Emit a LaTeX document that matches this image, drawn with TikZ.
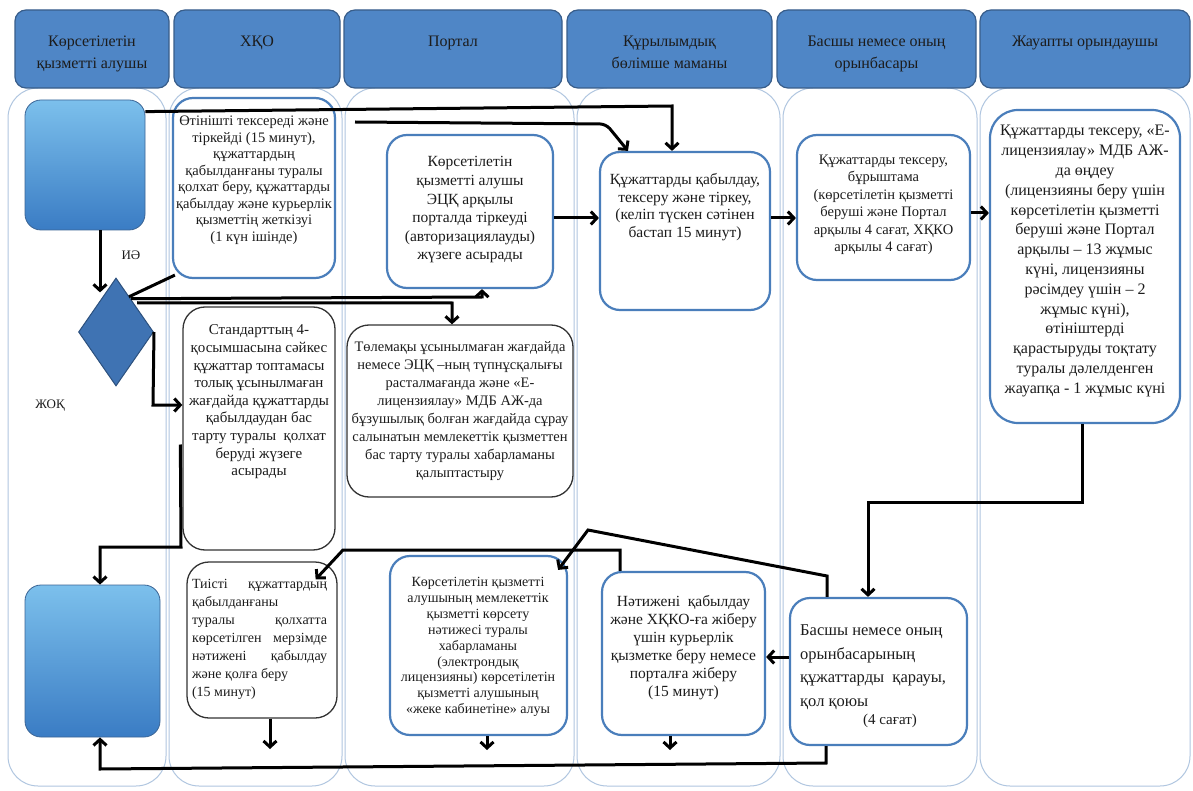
\documentclass[tikz,border=0pt]{standalone}
\usepackage{fontspec}
\setmainfont{Liberation Serif}
\usetikzlibrary{arrows.meta,shapes.geometric,calc}
\definecolor{hdr}{HTML}{4F86C6}
\definecolor{hdrline}{HTML}{385D8A}
\definecolor{bxblue}{HTML}{4A7EBB}
\definecolor{lanec}{HTML}{B0C6E0}
\definecolor{txt}{HTML}{1C1C1C}
\definecolor{gtop}{HTML}{7CC0EC}
\definecolor{gbot}{HTML}{3A7CC4}
\definecolor{dia}{HTML}{3F73B3}
\begin{document}
\begin{tikzpicture}[x=1pt,y=-1pt,
  hdrbox/.style={draw=hdrline, line width=1.2pt, fill=hdr, rounded corners=11pt, inner sep=0},
  hdrtxt/.style={text=txt, align=center, inner sep=0, anchor=north, font=\fontsize{16}{22}\selectfont},
  lanebox/.style={draw=lanec, line width=1pt, rounded corners=30pt},
  bluebox/.style={draw=bxblue, line width=2.2pt, fill=white, rounded corners=20pt, inner sep=0},
  blackbox/.style={draw=black!80, line width=1.3pt, fill=white, rounded corners=22pt, inner sep=0},
  actor/.style={draw=bxblue!80!black, line width=0.8pt, rounded corners=16pt, top color=gtop, bottom color=gbot, inner sep=0},
  tx/.style={text=txt, align=center, inner sep=0},
  conn/.style={line width=3pt, draw=black},
  arr/.style={conn, -{Straight Barb[length=6pt,width=13pt]}},
]
\useasboundingbox (0,0) rectangle (1193,791);
\fill[white] (0,0) rectangle (1193,791);

% lanes
\draw[lanebox] (8,88) rectangle (166,786);
\draw[lanebox] (169,88) rectangle (342,786);
\draw[lanebox] (345,88) rectangle (574,786);
\draw[lanebox] (577,88) rectangle (780,786);
\draw[lanebox] (783,88) rectangle (977,786);
\draw[lanebox] (980,88) rectangle (1190,786);

% headers
\node[hdrbox, minimum width=154pt, minimum height=78pt] (h1) at (92,49) {};
\node[hdrbox, minimum width=166pt, minimum height=78pt] (h2) at (257,49) {};
\node[hdrbox, minimum width=218pt, minimum height=78pt] (h3) at (453,49) {};
\node[hdrbox, minimum width=205pt, minimum height=78pt] (h4) at (669.5,49) {};
\node[hdrbox, minimum width=199pt, minimum height=78pt] (h5) at (876.5,49) {};
\node[hdrbox, minimum width=210pt, minimum height=78pt] (h6) at (1085,49) {};
\node[hdrtxt] (h1t) at (92,36) {Көрсетілетін\\қызметті алушы};
\node[hdrtxt] (h2t) at (257,36) {ХҚО};
\node[hdrtxt] (h3t) at (453,36) {Портал};
\node[hdrtxt] (h4t) at (669.5,36) {Құрылымдық\\бөлімше маманы};
\node[hdrtxt] (h5t) at (876.5,36) {Басшы немесе оның\\орынбасары};
\node[hdrtxt] (h6t) at (1085,36) {Жауапты орындаушы};

% actor boxes and decision
\node[actor, minimum width=120pt, minimum height=130pt] (lt) at (85,165) {};
\node[actor, minimum width=135pt, minimum height=152pt] (lb) at (92.5,661) {};
\node[diamond, draw=dia!70!black, fill=dia, line width=1pt, minimum width=75pt, minimum height=108pt, inner sep=0] (d) at (116,332) {};

% process boxes
\node[bluebox, minimum width=162pt, minimum height=180pt] (x1) at (254,188) {};
\node[blackbox, minimum width=152pt, minimum height=243pt] (x2) at (259,428.5) {};
\node[blackbox, minimum width=150pt, minimum height=156pt] (x3) at (262,640) {};
\node[bluebox, minimum width=166pt, minimum height=153pt] (p1) at (470,211.5) {};
\node[blackbox, minimum width=226pt, minimum height=172pt] (p2) at (460,411) {};
\node[bluebox, minimum width=177pt, minimum height=179pt] (p3) at (478.5,645.5) {};
\node[bluebox, minimum width=170pt, minimum height=158pt] (s1) at (685,231) {};
\node[bluebox, minimum width=163pt, minimum height=163pt] (s2) at (683.5,653.5) {};
\node[bluebox, minimum width=173pt, minimum height=145pt] (b1) at (883.5,207.5) {};
\node[bluebox, minimum width=177pt, minimum height=147pt] (b2) at (878.5,671.5) {};
\node[bluebox, rounded corners=28pt, minimum width=190pt, minimum height=313pt] (j1) at (1085,266.5) {};

% texts
\node[tx, font=\fontsize{14.5}{16.5}\selectfont] (x1t) at (254,180) {Өтінішті тексереді және\\тіркейді (15 минут),\\құжаттардың\\қабылданғаны туралы\\қолхат беру, құжаттарды\\қабылдау және курьерлік\\қызметтің жеткізуі\\(1 күн ішінде)};
\node[tx, font=\fontsize{15}{17.6}\selectfont] (x2t) at (259,402) {Стандарттың 4-\\қосымшасына сәйкес\\құжаттар топтамасы\\толық ұсынылмаған\\жағдайда құжаттарды\\қабылдаудан бас\\тарту туралы\ \ қолхат\\беруді жүзеге\\асырады};
\node[tx, align=left, font=\fontsize{14}{18}\selectfont] (x3t) at (259.5,639) {\hbox to 135pt{Тиісті\hfill құжаттардың}\\қабылданғаны\\\hbox to 135pt{туралы\hfill қолхатта}\\\hbox to 135pt{көрсетілген\hfill мерзімде}\\\hbox to 135pt{нәтижені\hfill қабылдау}\\және қолға беру\\(15 минут)};
\node[tx, font=\fontsize{15.5}{18.6}\selectfont] (p1t) at (470,210) {Көрсетілетін\\қызметті алушы\\ЭЦҚ арқылы\\порталда тіркеуді\\(авторизациялауды)\\жүзеге асырады};
\node[tx, font=\fontsize{14.5}{18}\selectfont] (p2t) at (460,411.5) {Төлемақы ұсынылмаған жағдайда\\немесе ЭЦҚ –ның түпнұсқалығы\\расталмағанда және «Е-\\лицензиялау» МДБ АЖ-да\\бұзушылық болған жағдайда сұрау\\салынатын мемлекеттік қызметтен\\бас тарту туралы хабарламаны\\қалыптастыру};
\node[tx, font=\fontsize{14}{15.9}\selectfont] (p3t) at (478,647) {Көрсетілетін қызметті\\алушының мемлекеттік\\қызметті көрсету\\нәтижесі туралы\\хабарламаны\\(электрондық\\лицензияны) көрсетілетін\\қызметті алушының\\«жеке кабинетіне» алуы};
\node[tx, font=\fontsize{15.5}{17.5}\selectfont] (s1t) at (685,207) {Құжаттарды қабылдау,\\тексеру және тіркеу,\\(келіп түскен сәтінен\\бастап 15 минут)};
\node[tx, font=\fontsize{15.5}{18}\selectfont] (s2t) at (683.5,648) {Нәтижені\ \ қабылдау\\және ХҚКО-ға жіберу\\үшін курьерлік\\қызметке беру немесе\\порталға жіберу\\(15 минут)};
\node[tx, font=\fontsize{14.5}{17.5}\selectfont] (b1t) at (883.5,205) {Құжаттарды тексеру,\\бұрыштама\\(көрсетілетін қызметті\\беруші және Портал\\арқылы 4 сағат, ХҚКО\\арқылы 4 сағат)};
\node[tx, align=left, anchor=west, font=\fontsize{16.5}{23.5}\selectfont] (b2t) at (800,667) {Басшы немесе оның\\орынбасарының\\құжаттарды\ \ қарауы,\\қол қоюы};
\node[tx, font=\fontsize{15}{17}\selectfont] (b2u) at (890,721) {(4 сағат)};
\node[tx, font=\fontsize{16}{19.8}\selectfont] (j1t) at (1085,261) {Құжаттарды тексеру, «Е-\\лицензиялау» МДБ АЖ-\\да өңдеу\\(лицензияны беру үшін\\көрсетілетін қызметті\\беруші және Портал\\арқылы – 13 жұмыс\\күні, лицензияны\\рәсімдеу үшін – 2\\жұмыс күні),\\өтініштерді\\қарастыруды тоқтату\\туралы дәлелденген\\жауапқа - 1 жұмыс күні};
\node[tx, font=\fontsize{13}{15}\selectfont] (yes) at (131,255) {ИӘ};
\node[tx, font=\fontsize{13}{15}\selectfont] (no) at (50,406) {ЖОҚ};

% connectors
\coordinate (k1) at (672,106);
\draw[arr] ([yshift=-12pt]lt.north east) -- (k1) -- (k1 |- s1.north);
\coordinate (k2a) at (355,122);
\coordinate (k2b) at (606,124);
\draw[arr, rounded corners=6pt] (k2a) -- (k2b) -- ([xshift=-57pt]s1.north);
\draw[arr] ([xshift=15pt]lt.south) -- ++(0,62);
\draw[conn] ([xshift=-6pt,yshift=8pt]d.north east) -- ([xshift=3pt,yshift=4pt]x1.south west);
\coordinate (k5) at (482,297);
\draw[arr] ([xshift=-4pt,yshift=6pt]d.north east) -- (k5) -- (k5 |- p1.south);
\coordinate (k6) at (452,303);
\draw[arr] ([xshift=2pt,yshift=2pt]d.north east) -- (k6) -- (k6 |- p2.north);
\coordinate (k7) at (153,405);
\draw[arr] (d.east) -- (k7) -- (x2.west |- k7);
\coordinate (k8b) at (181,547);
\coordinate (k8c) at (100,547);
\draw[arr] ([xshift=-2pt,yshift=-16pt]x2.west) -- (k8b) -- (k8c) -- (k8c |- lb.north);
\coordinate (y1) at (0,218);
\draw[arr] (p1.east |- y1) -- (s1.west |- y1);
\draw[arr] (s1.east |- y1) -- (b1.west |- y1);
\coordinate (y2) at (0,213);
\draw[arr] (b1.east |- y2) -- (j1.west |- y2);
\coordinate (k12a) at (1082,502);
\coordinate (k12b) at (868,502);
\draw[arr] (j1.south -| k12a) -- (k12a) -- (k12b) -- (k12b |- b2.north);
\coordinate (y3) at (0,657);
\draw[arr] (b2.west |- y3) -- (s2.east |- y3);
\coordinate (k14a) at (620,550);
\coordinate (k14b) at (343,550);
\draw[arr] (s2.north -| k14a) -- (k14a) -- (k14b) -- ([xshift=-22pt,yshift=-18pt]x3.north east);
\coordinate (k15a) at (827,576);
\coordinate (k15b) at (588,530);
\draw[arr] (b2.north -| k15a) -- (k15a) -- (k15b) -- ([xshift=-10pt,yshift=-15pt]p3.north east);
\coordinate (k16a) at (826,763);
\coordinate (k16b) at (100,769);
\draw[arr] (b2.south -| k16a) -- (k16a) -- (k16b) -- (k16b |- lb.south);
\coordinate (k17) at (270,749);
\draw[arr] (x3.south -| k17) -- (k17);
\coordinate (k18) at (487,750);
\draw[arr] (p3.south -| k18) -- (k18);
\coordinate (k19) at (670,750);
\draw[arr] (s2.south -| k19) -- (k19);
\end{tikzpicture}
\end{document}
